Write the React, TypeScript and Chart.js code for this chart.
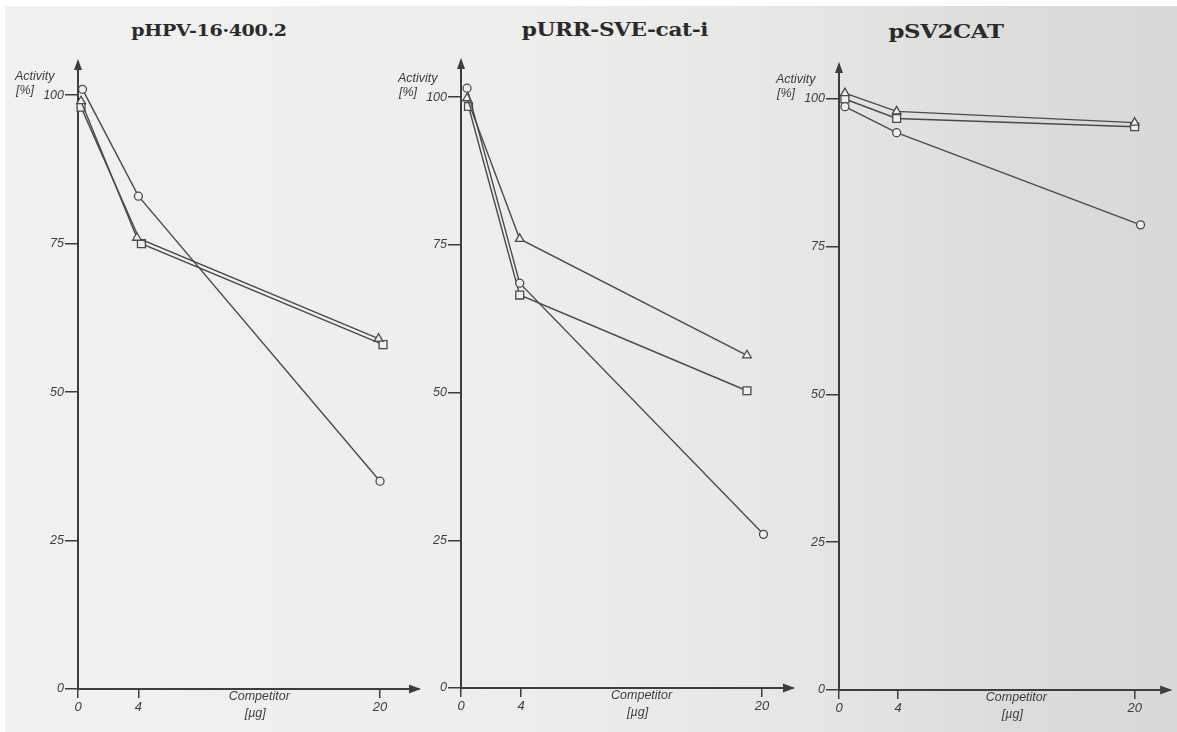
import React, { useEffect, useRef } from "react";
import { Chart, registerables } from "chart.js";

Chart.register(...registerables);

// ---------- data ----------
const X_TICKS = [0, 4, 20];
const Y_TICKS = [0, 25, 50, 75, 100];
const TITLES = ["pHPV-16·400.2", "pURR-SVE-cat-i", "pSV2CAT"];
const Y_LABEL = ["Activity", "[%]"];
const X_LABEL = ["Competitor", "[µg]"];

// Panel 1: pHPV-16·400.2
const P1_CIRCLE_X = [0.3, 4, 20];
const P1_CIRCLE_Y = [101, 83, 35];
const P1_TRIANGLE_X = [0.2, 3.9, 19.9];
const P1_TRIANGLE_Y = [99, 76, 59];
const P1_SQUARE_X = [0.2, 4.2, 20.2];
const P1_SQUARE_Y = [98, 75, 58];

// Panel 2: pURR-SVE-cat-i
const P2_CIRCLE_X = [0.4, 3.9, 20.1];
const P2_CIRCLE_Y = [101.5, 68.5, 26];
const P2_TRIANGLE_X = [0.4, 3.9, 19];
const P2_TRIANGLE_Y = [99.8, 76, 56.3];
const P2_SQUARE_X = [0.5, 3.9, 19];
const P2_SQUARE_Y = [98.4, 66.5, 50.3];

// Panel 3: pSV2CAT
const P3_CIRCLE_X = [0.4, 3.9, 20.4];
const P3_CIRCLE_Y = [98.7, 94.3, 78.7];
const P3_TRIANGLE_X = [0.4, 3.9, 20];
const P3_TRIANGLE_Y = [101, 97.9, 96];
const P3_SQUARE_X = [0.4, 3.9, 20];
const P3_SQUARE_Y = [100, 96.7, 95.3];

// ---------- layout / style ----------
const W = 1177;
const H = 732;
const INK = "#3d3d3d";
const LINE = "#4a4a4a";
const PAPER = "#efefed";
const TICK_FONT = "'Liberation Sans', Arial, sans-serif";
const Y_AXIS_W = 70;

const PANELS = [
  { axisX: 78, tipX: 419, tipY: 62, zeroY: 689, xMax: 22.58, yMax: 105.6,
    titleX: 209, titleTop: 22, titleSize: 17, titleScale: 1.12,
    series: [[P1_CIRCLE_X, P1_CIRCLE_Y, "circle"], [P1_TRIANGLE_X, P1_TRIANGLE_Y, "triangle"], [P1_SQUARE_X, P1_SQUARE_Y, "rect"]] },
  { axisX: 461, tipX: 793, tipY: 61, zeroY: 688, xMax: 22.06, yMax: 106.1,
    titleX: 615, titleTop: 21, titleSize: 18, titleScale: 1.2,
    series: [[P2_CIRCLE_X, P2_CIRCLE_Y, "circle"], [P2_TRIANGLE_X, P2_TRIANGLE_Y, "triangle"], [P2_SQUARE_X, P2_SQUARE_Y, "rect"]] },
  { axisX: 839, tipX: 1175, tipY: 65, zeroY: 690, xMax: 22.4, yMax: 105.75,
    titleX: 946, titleTop: 22, titleSize: 19, titleScale: 1.2,
    series: [[P3_CIRCLE_X, P3_CIRCLE_Y, "circle"], [P3_TRIANGLE_X, P3_TRIANGLE_Y, "triangle"], [P3_SQUARE_X, P3_SQUARE_Y, "rect"]] },
];

const RADIUS: Record<string, number> = { circle: 4, triangle: 5, rect: 5.6 };

const decorPlugin = {
  id: "decor",
  afterDraw(chart: any) {
    const { ctx, chartArea } = chart;
    const { left, right, top, bottom } = chartArea;
    ctx.save();
    ctx.fillStyle = INK;
    // y arrow
    ctx.beginPath();
    ctx.moveTo(left, top - 3);
    ctx.lineTo(left - 4, top + 8);
    ctx.lineTo(left + 4, top + 8);
    ctx.closePath();
    ctx.fill();
    // x arrow
    ctx.beginPath();
    ctx.moveTo(right + 2, bottom);
    ctx.lineTo(right - 10, bottom - 4.5);
    ctx.lineTo(right - 10, bottom + 4.5);
    ctx.closePath();
    ctx.fill();
    // axis labels
    ctx.fillStyle = INK;
    ctx.font = `italic 12.5px ${TICK_FONT}`;
    ctx.textBaseline = "middle";
    ctx.textAlign = "left";
    const y100 = chart.scales.y.getPixelForValue(100);
    ctx.fillText(Y_LABEL[0], left - 63, y100 - 19);
    ctx.fillText(Y_LABEL[1], left - 62, y100 - 5);
    const xc = chart.scales.x.getPixelForValue(12);
    ctx.textAlign = "center";
    ctx.fillText(X_LABEL[0], xc, bottom + 8);
    ctx.fillText(X_LABEL[1], xc - 4, bottom + 25);
    ctx.restore();
  },
};

function Panel({ p }: { p: any }) {
  const ref = useRef<HTMLCanvasElement>(null);
  useEffect(() => {
    const datasets = p.series.map((s: any) => {
      const [xs, ys, style] = s;
      return {
        data: xs.map((x: number, i: number) => ({ x, y: ys[i] })),
        showLine: true,
        borderColor: LINE,
        borderWidth: 1.4,
        pointStyle: style,
        pointRadius: RADIUS[style],
        pointBorderWidth: 1.3,
        pointBorderColor: LINE,
        pointBackgroundColor: PAPER,
        clip: false,
      };
    });
    const chart = new Chart(ref.current as HTMLCanvasElement, {
      type: "scatter",
      data: { datasets },
      plugins: [decorPlugin],
      options: {
        animation: false,
        responsive: false,
        devicePixelRatio: 1,
        events: [],
        layout: {
          padding: { left: p.axisX - Y_AXIS_W, right: W - p.tipX, top: p.tipY, bottom: 0 },
        },
        plugins: { legend: { display: false }, tooltip: { enabled: false }, title: { display: false } },
        scales: {
          x: {
            type: "linear",
            min: 0,
            max: p.xMax,
            afterBuildTicks: (axis: any) => {
              axis.ticks = X_TICKS.map((v) => ({ value: v }));
            },
            afterFit: (scale: any) => {
              scale.height = H - p.zeroY;
            },
            grid: { drawOnChartArea: false, drawTicks: true, tickLength: 9, color: INK, lineWidth: 1.5 },
            border: { display: true, color: INK, width: 2 },
            ticks: { color: INK, font: { family: TICK_FONT, size: 13, style: "italic" }, padding: 2, maxRotation: 0 },
          },
          y: {
            type: "linear",
            min: 0,
            max: p.yMax,
            afterBuildTicks: (axis: any) => {
              axis.ticks = Y_TICKS.map((v) => ({ value: v }));
            },
            afterFit: (scale: any) => {
              scale.width = Y_AXIS_W;
            },
            grid: { drawOnChartArea: false, drawTicks: true, tickLength: 13, color: INK, lineWidth: 1.5 },
            border: { display: true, color: INK, width: 2 },
            ticks: { color: INK, font: { family: TICK_FONT, size: 12.5, style: "italic" }, padding: 1 },
          },
        },
      } as any,
    });
    return () => chart.destroy();
  }, []);
  return (
    <canvas
      ref={ref}
      width={W}
      height={H}
      style={{ position: "absolute", left: 0, top: 0, width: W, height: H }}
    />
  );
}

export default function App() {
  return (
    <div style={{ position: "fixed", left: 0, top: 0, width: W, height: H, background: "#ffffff", overflow: "hidden" }}>
      <div
        style={{
          position: "absolute",
          left: 5,
          top: 6,
          right: 0,
          bottom: 0,
          background: "linear-gradient(to right, #f1f1ef 0%, #ededeb 45%, #e6e6e4 68%, #dcdcda 85%, #d8d8d6 100%)",
        }}
      />
      {PANELS.map((p, i) => (
        <div
          key={"t" + i}
          style={{
            position: "absolute",
            left: p.titleX,
            top: p.titleTop,
            transform: `translateX(-50%) scaleX(${p.titleScale})`,
            fontFamily: "'DejaVu Serif', serif",
            fontWeight: "bold",
            fontSize: p.titleSize,
            lineHeight: 1,
            letterSpacing: -0.3,
            color: "#2a2a2a",
            whiteSpace: "nowrap",
          }}
        >
          {TITLES[i]}
        </div>
      ))}
      {PANELS.map((p, i) => (
        <Panel key={i} p={p} />
      ))}
    </div>
  );
}
